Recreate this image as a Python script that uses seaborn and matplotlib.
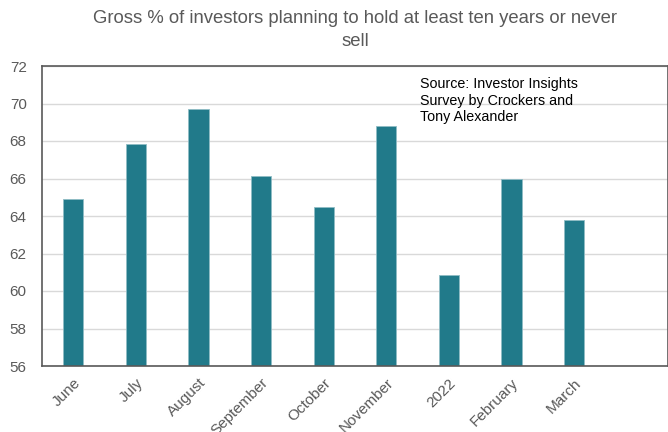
import matplotlib
matplotlib.use("Agg")
import matplotlib.pyplot as plt
import seaborn as sns
import pandas as pd

categories = ["June", "July", "August", "September", "October", "November", "2022", "February", "March", ""]
values = [64.89, 67.86, 69.7, 66.14, 64.46, 68.8, 60.87, 65.96, 63.77, None]

sns.set_theme(style="white")
plt.rcParams['font.family'] = ['Liberation Sans', 'DejaVu Sans']

df = pd.DataFrame({"month": categories, "value": values})

fig = plt.figure(figsize=(6.68, 4.32), dpi=100)
ax = fig.add_axes([42/668, 1-366/432, 1-42/668, 300/432])

sns.barplot(data=df, x="month", y="value", ax=ax, color="#217a8a", width=0.32,
            saturation=1, edgecolor="#8fbcc5", linewidth=0.6, order=categories)

ax.set_ylim(56, 72)
ax.set_xlim(-0.5, 9.5)
ax.set_yticks(range(56, 73, 2))
ax.yaxis.grid(True, color="#d9d9d9", linewidth=1)
ax.set_axisbelow(True)
ax.set_xlabel("")
ax.set_ylabel("")
for s in ax.spines.values():
    s.set_color("#595959")
    s.set_linewidth(1.2)
ax.tick_params(axis="y", labelsize=11, labelcolor="#595959", length=0, pad=11)
ax.tick_params(axis="x", labelsize=11, labelcolor="#595959", length=0, pad=7)
for lab in ax.get_xticklabels():
    lab.set_rotation(45)
    lab.set_ha("right")
    lab.set_rotation_mode("anchor")

fig.text(355/668, 1-10/432,
         "Gross % of investors planning to hold at least ten years or never\nsell",
         ha="center", va="top", fontsize=13.3, color="#595959", linespacing=1.5)
fig.text(420/668, 1-77/432, "Source: Investor Insights\nSurvey by Crockers and\nTony Alexander",
         ha="left", va="top", fontsize=10.3, color="black", linespacing=1.25)

fig.savefig("out.png", dpi=100)
